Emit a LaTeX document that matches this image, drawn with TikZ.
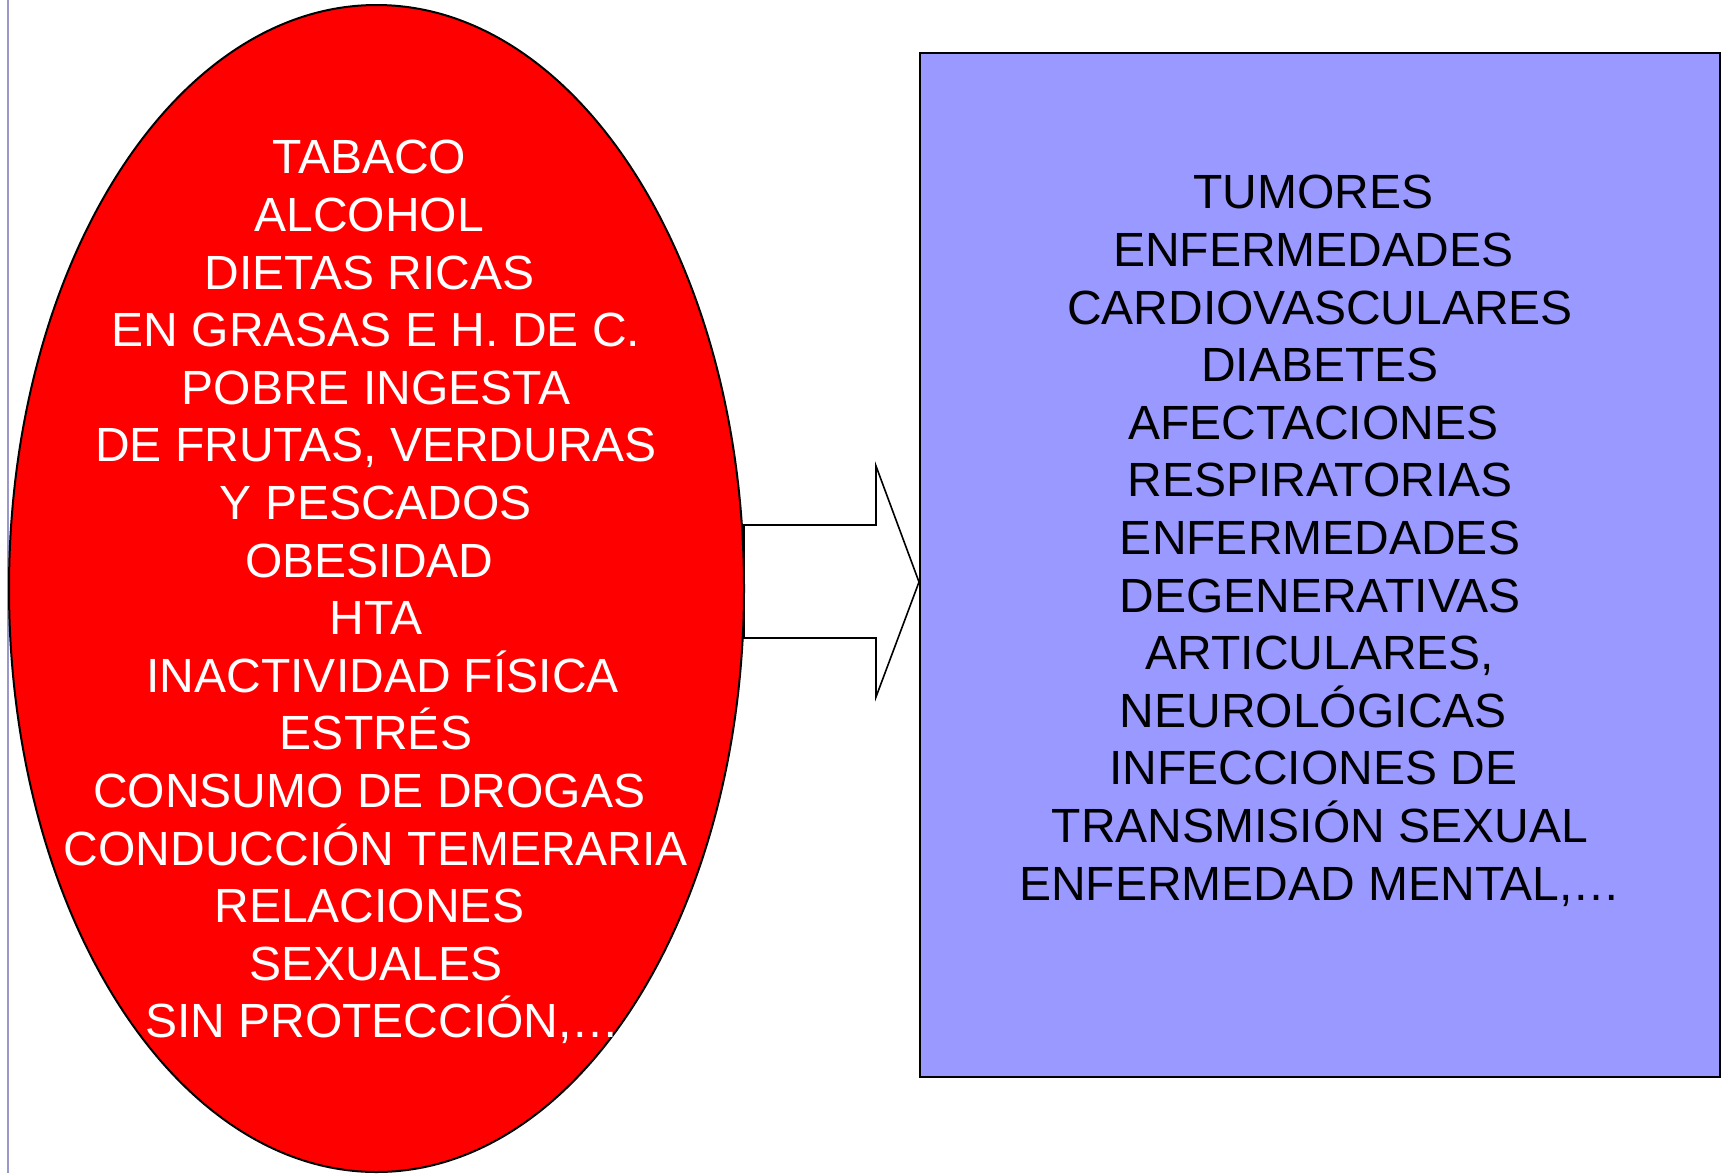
\documentclass[tikz,border=0pt]{standalone}
\usepackage{fontspec}
\setmainfont{Liberation Sans}
\usetikzlibrary{shapes.geometric}
\definecolor{boxblue}{RGB}{153,153,255}
\definecolor{edgeline}{RGB}{153,153,204}
\newcommand\tsp{\hbox to 0.278em{}}
\newcommand\firststrut{\rule{0pt}{20pt}}
\begin{document}
\begin{tikzpicture}[x=0.5pt,y=-0.5pt,
  riskshape/.style={ellipse, draw=black, line width=1pt, fill=red, inner sep=0pt,
    minimum width=367.5pt, minimum height=583.5pt},
  disshape/.style={rectangle, draw=black, line width=1.2pt, fill=boxblue, inner sep=0pt,
    minimum width=400pt, minimum height=512pt},
  listtext/.style={align=center, inner sep=0pt, anchor=north,
    font=\fontsize{24pt}{28.8pt}\selectfont},
  blockarrow/.style={draw=black, line width=0.8pt, fill=white, line join=miter}
]
\useasboundingbox (0,0) rectangle (1723,1173);
\draw[edgeline, line width=0.8pt] (8,0) -- (8,1173);
\coordinate (a1) at (744,525);
\coordinate (a2) at (876,525);
\coordinate (a3) at (876,466);
\coordinate (tip) at (919,582);
\coordinate (a5) at (876,697);
\coordinate (a6) at (876,638);
\coordinate (a7) at (744,638);
\draw[blockarrow] (a1) -- (a2) -- (a3) -- (tip) -- (a5) -- (a6) -- (a7) -- cycle;
\node[riskshape] (risk) at (376.5,588.5) {};
\node[disshape] (dis) at (1320,565) {};
\node[listtext, text=white] (risktxt) at (376,133.5) {\firststrut TABACO\tsp\\
ALCOHOL\tsp\\
DIETAS RICAS\tsp\\
EN GRASAS E H. DE C.\\
POBRE INGESTA\\
DE FRUTAS, VERDURAS\\
Y PESCADOS\\
OBESIDAD\tsp\\
HTA\\
\tsp INACTIVIDAD FÍSICA\\
ESTRÉS\\
CONSUMO DE DROGAS\tsp\\
CONDUCCIÓN TEMERARIA\\
RELACIONES\tsp\\
SEXUALES\\
\tsp SIN PROTECCIÓN,…};
\node[listtext, text=black] (distxt) at (1320,168.5) {\firststrut TUMORES\tsp\\
ENFERMEDADES\tsp\\
CARDIOVASCULARES\\
DIABETES\\
AFECTACIONES\tsp\\
RESPIRATORIAS\\
ENFERMEDADES\\
DEGENERATIVAS\\
ARTICULARES,\\
NEUROLÓGICAS\tsp\\
INFECCIONES DE\tsp\\
TRANSMISIÓN SEXUAL\\
ENFERMEDAD MENTAL,…};
\end{tikzpicture}
\end{document}
